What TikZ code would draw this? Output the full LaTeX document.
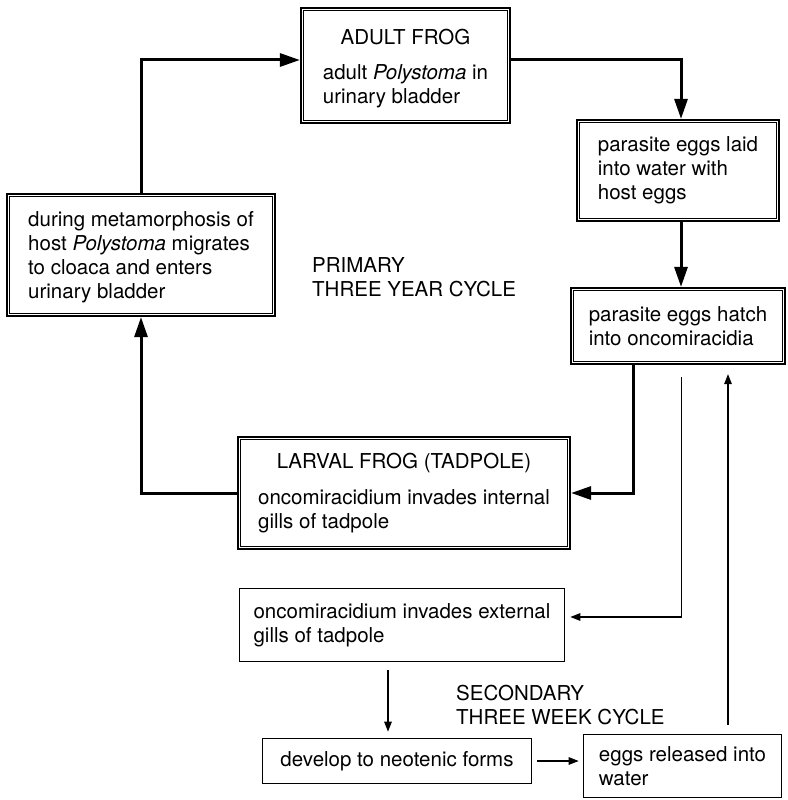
\documentclass[tikz,border=0pt]{standalone}
\usepackage{fontspec}
\setmainfont{TeX Gyre Heros}
\usepackage{tikz}
\usetikzlibrary{arrows.meta, positioning}
\newcommand{\leftlines}[1]{\begin{tabular}[t]{@{}l@{}}#1\end{tabular}}

\begin{document}
\begin{tikzpicture}[x=1pt, y=-1pt, font=\fontsize{20.5}{24}\selectfont,
    dbox/.style={draw, line width=2.2pt, inner sep=0pt, align=left,
        append after command={\pgfextra{\draw[line width=0.9pt] ([shift={(4pt,-4pt)}]\tikzlastnode.north west) rectangle ([shift={(-4pt,4pt)}]\tikzlastnode.south east);}}},
    sbox/.style={draw, line width=1.6pt, inner sep=0pt, align=left},
    mainarrow/.style={line width=3pt, -{Triangle[length=20pt, width=13pt]}},
    sidearrow/.style={line width=1.3pt, -{Triangle[length=10pt, width=7.5pt]}}]
    \useasboundingbox (0,0) rectangle (787,800);
    \node[dbox, align=center, minimum width=209pt, minimum height=115pt] (adult) at (405.5,65.5) {\rule{0pt}{24pt}ADULT FROG\\[11pt]\leftlines{adult \textit{Polystoma} in\\urinary bladder}};
    \node[dbox, minimum width=202pt, minimum height=101pt] (laid) at (678,170.5) {parasite eggs laid\\into water with\\host eggs};
    \node[dbox, minimum width=214pt, minimum height=76pt] (hatch) at (678,326) {parasite eggs hatch\\into oncomiracidia};
    \node[dbox, minimum width=268pt, minimum height=122pt] (meta) at (141,255) {\rule{0pt}{19pt}during metamorphosis of\\host \textit{Polystoma} migrates\\to cloaca and enters\\urinary bladder};
    \node[dbox, align=center, minimum width=332pt, minimum height=112pt] (larval) at (404,493) {\rule{0pt}{19pt}LARVAL FROG (TADPOLE)\\[12pt]\leftlines{oncomiracidium invades internal\\gills of tadpole}};
    \node[sbox, minimum width=325pt, minimum height=73pt] (ext) at (402,625) {oncomiracidium invades external\\gills of tadpole};
    \node[sbox, minimum width=269pt, minimum height=45pt] (neo) at (397,761) {develop to neotenic forms};
    \node[sbox, minimum width=198pt, minimum height=63pt] (rel) at (682.5,766) {eggs released into\\water};
    \node[align=left, anchor=west, inner sep=0pt] (primary) at (312,277) {PRIMARY\\THREE YEAR CYCLE};
    \node[align=left, anchor=west, inner sep=0pt] (secondary) at (456,705) {SECONDARY\\THREE WEEK CYCLE};
    \draw[mainarrow] (meta.north) |- ([yshift=5.5pt]adult.west);
    \draw[mainarrow] ([yshift=5.5pt]adult.east) -| ([xshift=3pt]laid.north);
    \draw[mainarrow] ([xshift=3pt]laid.south) -- ([xshift=3pt]hatch.north);
    \draw[mainarrow] ([xshift=-45pt]hatch.south) |- (larval.east);
    \draw[mainarrow] (larval.west) -| (meta.south);
    \draw[sidearrow, shorten <=12pt, shorten >=5pt] ([xshift=3.5pt]hatch.south) |- ([yshift=8pt]ext.east);
    \draw[sidearrow, shorten <=8pt, shorten >=6pt] ([xshift=-14pt]ext.south) -- ([xshift=-14pt]ext.south |- neo.north);
    \draw[sidearrow, shorten <=5pt, shorten >=4pt] (neo.east) -- (neo.east -| rel.west);
    \draw[sidearrow, shorten <=9pt, shorten >=9pt] ([xshift=45.5pt]rel.north) -- ([xshift=45.5pt]rel.north |- hatch.south);
\end{tikzpicture}
\end{document}
